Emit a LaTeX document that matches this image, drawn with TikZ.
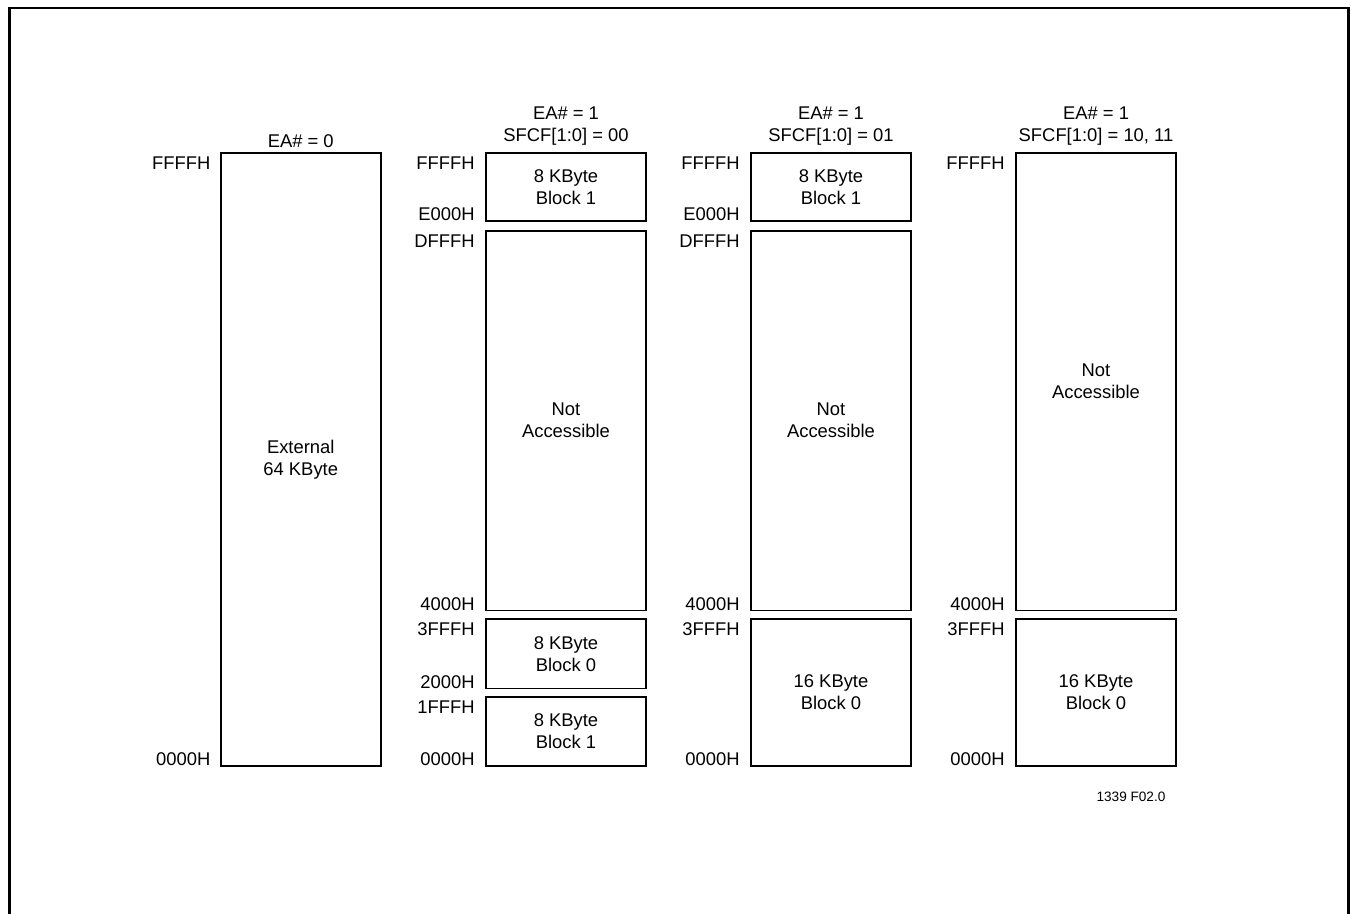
\documentclass[tikz,border=0pt]{standalone}
\usepackage{fontspec}
\setmainfont{Liberation Sans}
\usetikzlibrary{positioning}
\tikzset{
  blk/.style={draw, line width=0.8pt, minimum width=80pt, inner sep=0pt, outer sep=0pt, align=center, font=\fontsize{9.2}{11}\selectfont},
  addr/.style={anchor=base east, inner sep=0pt, font=\fontsize{9.2}{11}\selectfont},
  hdr/.style={inner sep=0pt, align=center, font=\fontsize{9.2}{11}\selectfont},
  every picture/.style={line cap=butt, line join=miter}
}
\begin{document}
\begin{tikzpicture}[x=0.5pt, y=-0.5pt]
  \useasboundingbox (0,0) rectangle (1351,914);
  % outer frame, open at the bottom
  \coordinate (fbl) at (9.5,914);
  \coordinate (ftr) at (1348.5,8);
  \coordinate (fbr) at (1348.5,914);
  \draw[line width=1.3pt] (fbl) |- (ftr) -- (fbr);
  % memory blocks
  \node[blk, minimum height=306.5pt] (c1) at (300.75,459.5) {External\\64 KByte};
  \node[blk, minimum height=34pt] (c2a) at (566,187) {8 KByte\\Block 1};
  \node[blk, minimum height=189.75pt] (c2b) at (566,420.75) {Not\\Accessible};
  \node[blk, minimum height=34.75pt] (c2c) at (566,653.75) {8 KByte\\Block 0};
  \node[blk, minimum height=34.5pt] (c2d) at (566,731.5) {8 KByte\\Block 1};
  \node[blk, minimum height=34pt] (c3a) at (831,187) {8 KByte\\Block 1};
  \node[blk, minimum height=189.75pt] (c3b) at (831,420.75) {Not\\Accessible};
  \node[blk, minimum height=73.5pt] (c3c) at (831,692.5) {16 KByte\\Block 0};
  \node[blk, minimum height=228.75pt] (c4a) at (1096,381.75) {Not\\Accessible};
  \node[blk, minimum height=73.5pt] (c4b) at (1096,692.5) {16 KByte\\Block 0};
  % headers
  \node[hdr, anchor=base] (h1) at ([yshift=2.5pt]c1.north) {EA\# = 0};
  \node[hdr, anchor=south] (h2) at ([yshift=3.6pt]c2a.north) {EA\# = 1\\SFCF[1:0] = 00};
  \node[hdr, anchor=south] (h3) at ([yshift=3.6pt]c3a.north) {EA\# = 1\\SFCF[1:0] = 01};
  \node[hdr, anchor=south] (h4) at ([yshift=3.6pt]c4a.north) {EA\# = 1\\SFCF[1:0] = 10, 11};
  % addresses
  \node[addr] (a1t) at ([xshift=-5pt,yshift=-8.5pt]c1.north west) {FFFFH};
  \node[addr] (a1b) at ([xshift=-5pt]c1.south west) {0000H};
  \node[addr] (a2t) at ([xshift=-5.5pt,yshift=-8.5pt]c2a.north west) {FFFFH};
  \node[addr] (a2u) at ([xshift=-5.5pt]c2a.south west) {E000H};
  \node[addr] (a2v) at ([xshift=-5.5pt,yshift=-8.5pt]c2b.north west) {DFFFH};
  \node[addr] (a2w) at ([xshift=-5.5pt]c2b.south west) {4000H};
  \node[addr] (a2x) at ([xshift=-5.5pt,yshift=-8.5pt]c2c.north west) {3FFFH};
  \node[addr] (a2y) at ([xshift=-5.5pt]c2c.south west) {2000H};
  \node[addr] (a2z) at ([xshift=-5.5pt,yshift=-8.5pt]c2d.north west) {1FFFH};
  \node[addr] (a2b) at ([xshift=-5.5pt]c2d.south west) {0000H};
  \node[addr] (a3t) at ([xshift=-5.5pt,yshift=-8.5pt]c3a.north west) {FFFFH};
  \node[addr] (a3u) at ([xshift=-5.5pt]c3a.south west) {E000H};
  \node[addr] (a3v) at ([xshift=-5.5pt,yshift=-8.5pt]c3b.north west) {DFFFH};
  \node[addr] (a3w) at ([xshift=-5.5pt]c3b.south west) {4000H};
  \node[addr] (a3x) at ([xshift=-5.5pt,yshift=-8.5pt]c3c.north west) {3FFFH};
  \node[addr] (a3b) at ([xshift=-5.5pt]c3c.south west) {0000H};
  \node[addr] (a4t) at ([xshift=-5.5pt,yshift=-8.5pt]c4a.north west) {FFFFH};
  \node[addr] (a4w) at ([xshift=-5.5pt]c4a.south west) {4000H};
  \node[addr] (a4x) at ([xshift=-5.5pt,yshift=-8.5pt]c4b.north west) {3FFFH};
  \node[addr] (a4b) at ([xshift=-5.5pt]c4b.south west) {0000H};
  % figure number
  \node[anchor=base, inner sep=0pt, font=\fontsize{6.8}{8}\selectfont] (fig) at (1131,802) {1339 F02.0};
\end{tikzpicture}
\end{document}
